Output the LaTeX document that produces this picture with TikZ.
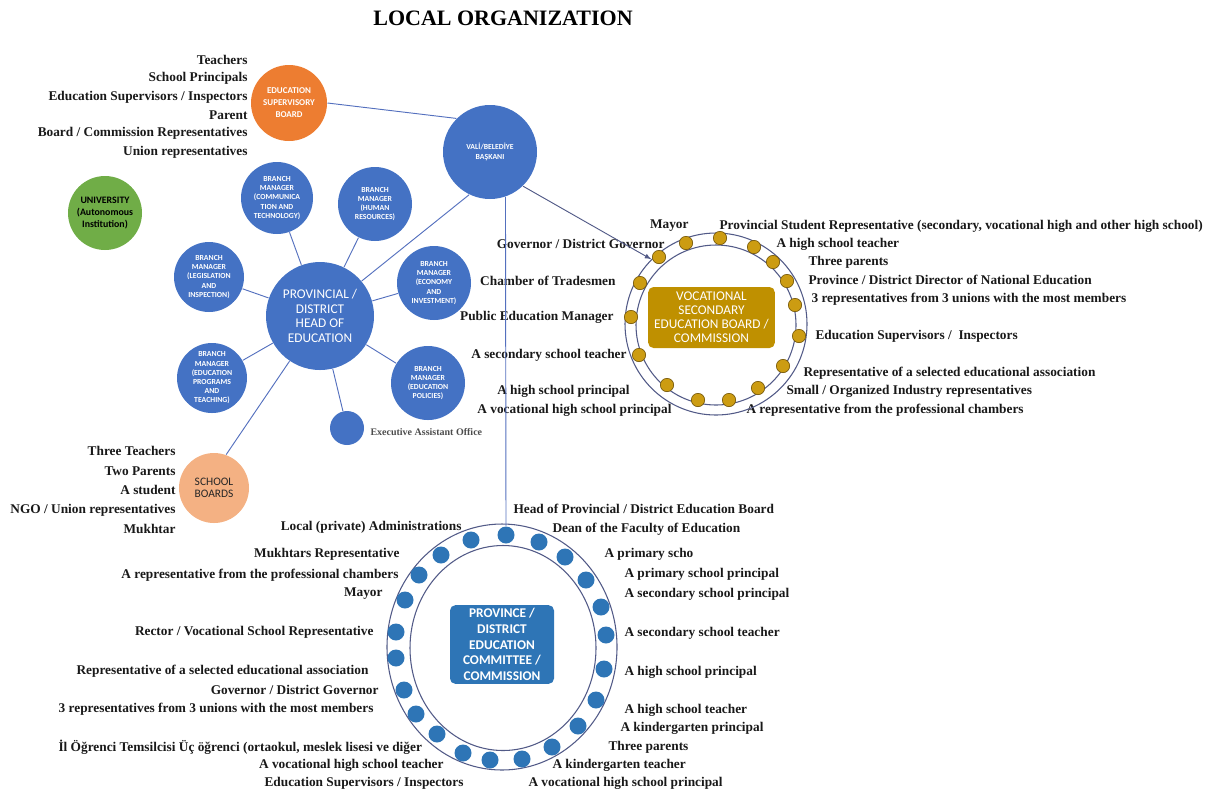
\documentclass[tikz,border=0pt]{standalone}
\usepackage{fontspec}
\setmainfont{Liberation Serif}
\newfontfamily\calib{Carlito}
\usetikzlibrary{shapes.geometric}

\definecolor{offblue}{RGB}{68,114,196}
\definecolor{dkblue}{RGB}{46,117,182}
\definecolor{esborange}{RGB}{237,125,49}
\definecolor{unigreen}{RGB}{112,173,71}
\definecolor{schorange}{RGB}{244,177,131}
\definecolor{gold}{RGB}{191,144,0}
\definecolor{dotgold}{RGB}{204,156,18}
\definecolor{golddark}{RGB}{120,90,10}
\definecolor{ringline}{RGB}{82,90,135}
\definecolor{linkblue}{RGB}{84,112,190}

\tikzset{every picture/.style={line width=0.75pt}}
\tikzset{
  lbl/.style={inner sep=0.75pt, text=black!90, font=\bfseries\fontsize{10}{12}\selectfont},
  bigc/.style={circle, fill=offblue, inner sep=0pt, align=center, text=white},
  mgr/.style={bigc, minimum size=54pt, font=\calib\bfseries\fontsize{5.8}{6.9}\selectfont},
  link/.style={draw=linkblue, line width=0.7pt},
  ydot/.style={circle, fill=dotgold, draw=golddark, line width=0.5pt, minimum size=10pt, inner sep=0pt},
  bdot/.style={circle, fill=dkblue, minimum size=12.75pt, inner sep=0pt},
  ring/.style={draw=ringline, line width=0.8pt, inner sep=0pt}
}

\begin{document}
\begin{tikzpicture}[x=0.75pt,y=0.75pt,yscale=-1,xscale=1]
\useasboundingbox (0,0) rectangle (1212,794);

% Title
\node [inner sep=0.75pt, font=\bfseries\fontsize{16.5}{20}\selectfont] (title) at (503,18) {LOCAL ORGANIZATION};

%Shape: Circle
\node [bigc, minimum size=70.5pt, font=\calib\bfseries\fontsize{5.8}{7}\selectfont] (vali) at (490,152) {VALİ/BELEDİYE\\BAŞKANI};
%Shape: Circle
\node [bigc, fill=esborange, minimum size=57pt, font=\calib\bfseries\fontsize{6.7}{9}\selectfont] (esb) at (289,103) {EDUCATION\\SUPERVISORY\\BOARD};
%Shape: Circle
\node [bigc, fill=unigreen, minimum size=55.5pt, text=black, font=\calib\bfseries\fontsize{7.4}{9}\selectfont] (univ) at (105,213) {UNIVERSITY\\(Autonomous\\Institution)};
%Shape: Circle
\node [bigc, minimum size=81pt, font=\calib\fontsize{10}{10.9}\selectfont] (head) at (320,316) {PROVINCIAL /\\DISTRICT\\HEAD OF\\EDUCATION};

% Branch managers
\node [mgr] (comm) at (277,198) {BRANCH\\MANAGER\\(COMMUNICA\\TION AND\\TECHNOLOGY)};
\node [mgr, minimum size=55.5pt] (hr) at (375,204) {BRANCH\\MANAGER\\(HUMAN\\RESOURCES)};
\node [mgr, minimum size=52.5pt] (leg) at (209,277) {BRANCH\\MANAGER\\(LEGISLATION\\AND\\INSPECTION)};
\node [mgr, minimum size=55.5pt] (eco) at (434,283) {BRANCH\\MANAGER\\(ECONOMY\\AND\\INVESTMENT)};
\node [mgr, minimum size=52.5pt] (prog) at (212,378) {BRANCH\\MANAGER\\(EDUCATION\\PROGRAMS\\AND\\TEACHING)};
\node [mgr, minimum size=55.5pt] (pol) at (428,383) {BRANCH\\MANAGER\\(EDUCATION\\POLICIES)};
\node [bigc, minimum size=25.5pt] (exec) at (347,428) {};
% Text Node
\node [anchor=west, inner sep=0.75pt, text=black!70, font=\bfseries\fontsize{7.5}{9}\selectfont] (execlbl) at (369,432) {Executive Assistant Office};

%Shape: Circle
\node [bigc, fill=schorange, minimum size=52.5pt, text=black!85, font=\calib\fontsize{8.6}{9}\selectfont] (school) at (214,488) {SCHOOL\\BOARDS};

% Text Node
\node [lbl, anchor=east] (tl1) at (249,60) {Teachers};
\node [lbl, anchor=east] (tl2) at (249,78) {School Principals};
\node [lbl, anchor=east] (tl3) at (249,97) {Education Supervisors / Inspectors};
\node [lbl, anchor=east] (tl4) at (249,115) {Parent};
\node [lbl, anchor=east] (tl5) at (249,133) {Board / Commission Representatives};
\node [lbl, anchor=east] (tl6) at (249,152) {Union representatives};

% Text Node
\node [lbl, anchor=east] (sl1) at (177,451) {Three Teachers};
\node [lbl, anchor=east] (sl2) at (177,471) {Two Parents};
\node [lbl, anchor=east] (sl3) at (177,490) {A student};
\node [lbl, anchor=east] (sl4) at (177,510) {NGO / Union representatives};
\node [lbl, anchor=east] (sl5) at (177,529) {Mukhtar};

% Text Node
\node [lbl, anchor=east] (vl1) at (690,226) {Mayor};
\node [lbl, anchor=west] (vl2) at (718,226) {Provincial Student Representative (secondary, vocational high and other high school)};
\node [lbl, anchor=east] (vl3) at (666,244) {Governor / District Governor};
\node [lbl, anchor=west] (vl4) at (775,244) {A high school teacher};
\node [lbl, anchor=west] (vl5) at (807,262) {Three parents};
\node [lbl, anchor=east] (vl6) at (617,281) {Chamber of Tradesmen};
\node [lbl, anchor=west] (vl7) at (807,280) {Province / District Director of National Education};
\node [lbl, anchor=west] (vl8) at (810,299) {3 representatives from 3 unions with the most members};
\node [lbl, anchor=east] (vl9) at (615,317) {Public Education Manager};
\node [lbl, anchor=west] (vl10) at (814,336) {Education Supervisors /\ \ Inspectors};
\node [lbl, anchor=east] (vl11) at (628,355) {A secondary school teacher};
\node [lbl, anchor=west] (vl12) at (802,373) {Representative of a selected educational association};
\node [lbl, anchor=east] (vl13) at (631,391) {A high school principal};
\node [lbl, anchor=west] (vl14) at (785,391) {Small / Organized Industry representatives};
\node [lbl, anchor=east] (vl15) at (673,410) {A vocational high school principal};
\node [lbl, anchor=west] (vl16) at (745,410) {A representative from the professional chambers};

% Text Node
\node [lbl, anchor=west] (pl1) at (512,509) {Head of Provincial / District Education Board};
\node [lbl, anchor=west] (pl2) at (551,529) {Dean of the Faculty of Education};
\node [lbl, anchor=west] (pl3) at (603,554) {A primary scho};
\node [lbl, anchor=west] (pl4) at (623,574) {A primary school principal};
\node [lbl, anchor=west] (pl5) at (623,594) {A secondary school principal};
\node [lbl, anchor=west] (pl6) at (623,633) {A secondary school teacher};
\node [lbl, anchor=west] (pl7) at (623,672) {A high school principal};
\node [lbl, anchor=west] (pl8) at (623,710) {A high school teacher};
\node [lbl, anchor=west] (pl9) at (619,728) {A kindergarten principal};
\node [lbl, anchor=west] (pl10) at (607,747) {Three parents};
\node [lbl, anchor=west] (pl11) at (551,765) {A kindergarten teacher};
\node [lbl, anchor=west] (pl12) at (527,783) {A vocational high school principal};
\node [lbl, anchor=east] (pl13) at (463,527) {Local (private) Administrations};
\node [lbl, anchor=east] (pl14) at (401,554) {Mukhtars Representative};
\node [lbl, anchor=east] (pl15) at (400,575) {A representative from the professional chambers};
\node [lbl, anchor=east] (pl16) at (384,594) {Mayor};
\node [lbl, anchor=east] (pl17) at (375,632) {Rector / Vocational School Representative};
\node [lbl, anchor=east] (pl18) at (370,671) {Representative of a selected educational association};
\node [lbl, anchor=east] (pl19) at (380,690) {Governor / District Governor};
\node [lbl, anchor=east] (pl20) at (375,709) {3 representatives from 3 unions with the most members};
\node [lbl, anchor=west] (pl21) at (57,747) {İl Öğrenci Temsilcisi Üç öğrenci (ortaokul, meslek lisesi ve diğer};
\node [lbl, anchor=east] (pl22) at (445,765) {A vocational high school teacher};
\node [lbl, anchor=east] (pl23) at (465,783) {Education Supervisors / Inspectors};

%Shape: Circle (vocational ring)
\node [ring, circle, minimum size=136.5pt] (vring) at (716,324) {};
\node [ring, circle, minimum size=120pt] (vinner) at (716,325) {};
\node [rectangle, rounded corners=4pt, fill=gold, minimum width=95pt, minimum height=45.75pt, inner sep=0pt, text=white, align=center, font=\calib\fontsize{10}{10.6}\selectfont] (vboard) at (711.5,317.5) {VOCATIONAL\\SECONDARY\\EDUCATION BOARD /\\COMMISSION};
\node [ydot] (vd1) at (686,243) {};
\node [ydot] (vd2) at (720,238) {};
\node [ydot] (vd3) at (754,247) {};
\node [ydot] (vd4) at (773,262) {};
\node [ydot] (vd5) at (787,281) {};
\node [ydot] (vd6) at (795,305) {};
\node [ydot] (vd7) at (799,336) {};
\node [ydot] (vd8) at (783,366) {};
\node [ydot] (vd9) at (758,388) {};
\node [ydot] (vd10) at (729,400) {};
\node [ydot] (vd11) at (698,400) {};
\node [ydot] (vd12) at (667,385) {};
\node [ydot] (vd13) at (639,355) {};
\node [ydot] (vd14) at (631,317) {};
\node [ydot] (vd15) at (640,283) {};
\node [ydot] (vd16) at (659,257) {};

%Shape: Ellipse (committee ring)
\node [ring, ellipse, minimum width=172.5pt, minimum height=184.5pt] (pring) at (502,647) {};
\node [ring, ellipse, minimum width=139.5pt, minimum height=153.75pt] (pinner) at (503,648) {};
\node [rectangle, rounded corners=4pt, fill=dkblue, minimum width=78pt, minimum height=59pt, inner sep=0pt, text=white, align=center, font=\calib\bfseries\fontsize{10}{11.8}\selectfont] (pboard) at (502,644.5) {PROVINCE /\\DISTRICT\\EDUCATION\\COMMITTEE /\\COMMISSION};
\node [bdot] (pd1) at (506,535) {};
\node [bdot] (pd2) at (539,542) {};
\node [bdot] (pd3) at (565,557) {};
\node [bdot] (pd4) at (586,580) {};
\node [bdot] (pd5) at (601,607) {};
\node [bdot] (pd6) at (606,635) {};
\node [bdot] (pd7) at (604,669) {};
\node [bdot] (pd8) at (596,700) {};
\node [bdot] (pd9) at (578,726) {};
\node [bdot] (pd10) at (552,747) {};
\node [bdot] (pd11) at (522,759) {};
\node [bdot] (pd12) at (490,760) {};
\node [bdot] (pd13) at (463,753) {};
\node [bdot] (pd14) at (437,734) {};
\node [bdot] (pd15) at (416,714) {};
\node [bdot] (pd16) at (404,690) {};
\node [bdot] (pd17) at (396,658) {};
\node [bdot] (pd18) at (396,632) {};
\node [bdot] (pd19) at (405,600) {};
\node [bdot] (pd20) at (419,575) {};
\node [bdot] (pd21) at (441,555) {};
\node [bdot] (pd22) at (471,540) {};

% Connectors
\draw [link] (esb.east) -- (vali.135);
\draw [link] (head.40) -- (vali.244);
\draw [link] (head) -- (comm);
\draw [link] (head) -- (hr);
\draw [link] (head) -- (leg);
\draw [link] (head) -- (eco);
\draw [link] (head) -- (prog);
\draw [link] (head) -- (pol);
\draw [link] (head) -- (exec);
\draw [link] (head.236) -- (school.70);
\draw [link] (vali.-71) -- (pd1.north);
\draw [link, draw=ringline, -latex] (vali.-46) -- (vring.135);

\end{tikzpicture}
\end{document}
